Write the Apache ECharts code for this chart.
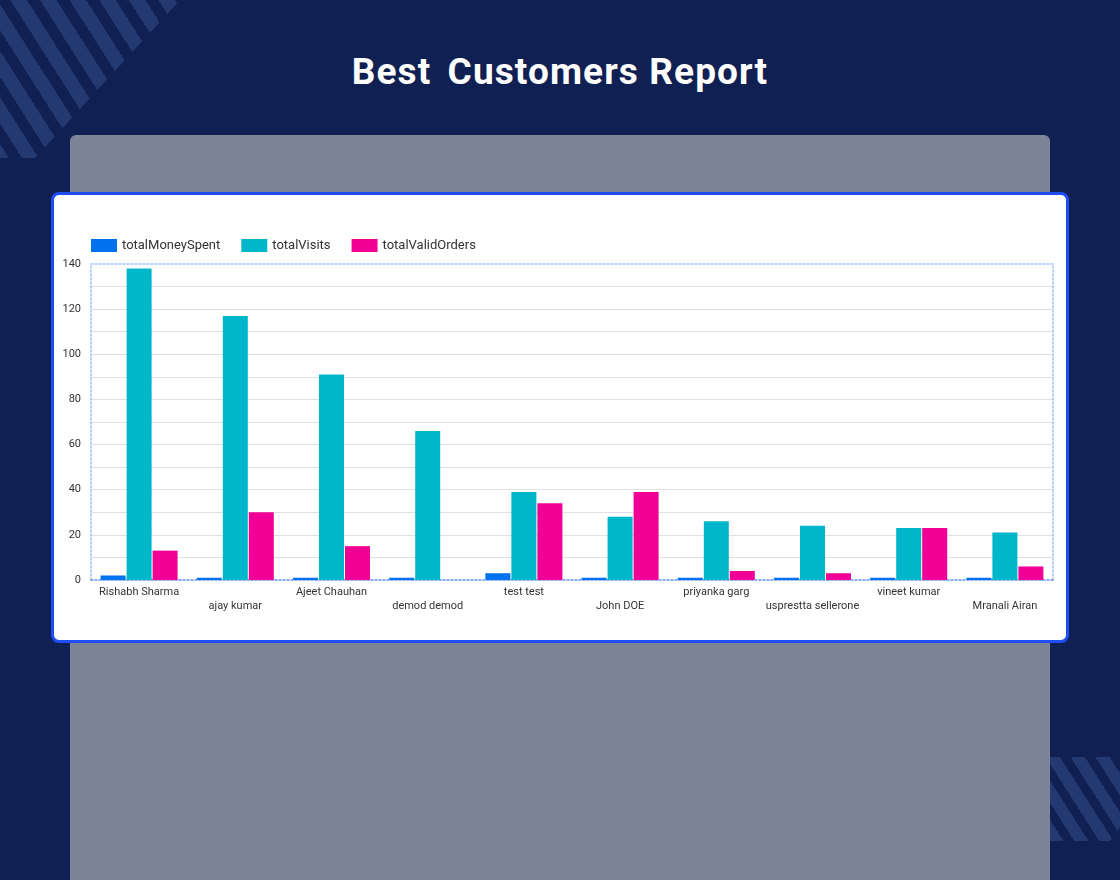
<!DOCTYPE html>
<html>
<head>
<meta charset="utf-8">
<script src="https://cdn.jsdelivr.net/npm/echarts@6/dist/echarts.min.js"></script>
<style>
  html, body { margin: 0; padding: 0; }
  body { width: 1120px; height: 880px; background: #112052; position: relative; overflow: hidden; font-family: Roboto, "Noto Sans", sans-serif; }
  #stripesTL { position: absolute; left: 0; top: 0; width: 200px; height: 170px;
    background: repeating-linear-gradient(57.5deg, #24396f 0 14px, transparent 14px 25px);
    clip-path: polygon(0 0, 180px 0, 35px 158px, 0 158px); }
  #stripesBR { position: absolute; left: 1050px; top: 757px; width: 70px; height: 85px;
    background: repeating-linear-gradient(57.5deg, #24396f 0 12px, transparent 12px 21px);
    clip-path: polygon(0 0, 70px 0, 70px 70px, 60px 84px, 0 84px); }
  #title { position: absolute; left: 0; top: 50px; width: 1120px; text-align: center; color: #fff; font-size: 37px; font-weight: 700; letter-spacing: 1.1px; font-family: Roboto, sans-serif; }
  #title span { margin-right: 6px; }
  #panel { position: absolute; left: 70px; top: 135px; width: 980px; height: 760px; background: #7c8498; border-radius: 6px; }
  #card { position: absolute; left: 51px; top: 192px; width: 1018px; height: 451px; box-sizing: border-box; background: #fff; border: 3px solid #1f4ef5; border-radius: 8px; }
  #chart { position: absolute; left: 51px; top: 192px; width: 1018px; height: 451px; }
</style>
</head>
<body>
<div id="stripesTL"></div>
<div id="stripesBR"></div>
<div id="title"><span>Best</span> Customers Report</div>
<div id="panel"></div>
<div id="card"></div>
<div id="chart"></div>
<script>
const customers = ["Rishabh Sharma", "ajay kumar", "Ajeet Chauhan", "demod demod", "test test", "John DOE", "priyanka garg", "usprestta sellerone", "vineet kumar", "Mranali Airan"];
const totalMoneySpent = [2, 1, 1, 1, 3, 1, 1, 1, 1, 1];
const totalVisits = [138, 117, 91, 66, 39, 28, 26, 24, 23, 21];
const totalValidOrders = [13, 30, 15, 0, 34, 39, 4, 3, 23, 6];
const yTicks = { min: 0, max: 140, interval: 20 };

const chart = echarts.init(document.getElementById('chart'));
const textColor = '#333';
const dotBlue = '#a3c2f5';
const dotted = (color) => ({ show: true, onZero: false, lineStyle: { color, type: [2, 2], width: 1.5 } });
const bar = (name, data, color) => ({
  name, type: 'bar', data, barWidth: 25, barGap: '4%',
  itemStyle: { color },
  emphasis: { disabled: true }
});
chart.setOption({
  animation: false,
  textStyle: { fontFamily: 'Roboto' },
  color: ['#0072f0', '#00b6cb', '#f10096'],
  legend: {
    left: 35, top: 42, itemWidth: 26, itemHeight: 13, itemGap: 21,
    icon: 'rect',
    textStyle: { fontSize: 13, color: '#333', fontFamily: 'Roboto' },
    data: ['totalMoneySpent', 'totalVisits', 'totalValidOrders']
  },
  grid: { left: 40, right: 16, top: 72, bottom: 63 },
  xAxis: [{
    type: 'category', data: customers,
    axisLine: dotted('#5f95ea'),
    axisTick: { show: false },
    axisLabel: {
      interval: 0, fontSize: 11, color: textColor, margin: 5, lineHeight: 14,
      formatter: (v, i) => (i % 2 ? '\n' + v : v)
    }
  }, {
    type: 'category', data: customers, position: 'top',
    axisLine: dotted(dotBlue),
    axisTick: { show: false }, axisLabel: { show: false }
  }],
  yAxis: [{
    type: 'value', min: yTicks.min, max: yTicks.max, interval: yTicks.interval,
    axisLine: dotted(dotBlue),
    axisTick: { show: false },
    axisLabel: { fontSize: 11, color: textColor, margin: 10 },
    splitLine: { showMinLine: false, showMaxLine: false, lineStyle: { color: '#e0e0e0' } },
    minorTick: { show: false, splitNumber: 2 },
    minorSplitLine: { show: true, lineStyle: { color: '#e0e0e0' } }
  }, {
    type: 'value', min: yTicks.min, max: yTicks.max, interval: yTicks.interval, position: 'right',
    axisLine: dotted(dotBlue),
    axisTick: { show: false }, axisLabel: { show: false }, splitLine: { show: false }
  }],
  series: [
    bar('totalMoneySpent', totalMoneySpent, '#0072f0'),
    bar('totalVisits', totalVisits, '#00b6cb'),
    bar('totalValidOrders', totalValidOrders, '#f10096')
  ]
});
</script>
</body>
</html>
